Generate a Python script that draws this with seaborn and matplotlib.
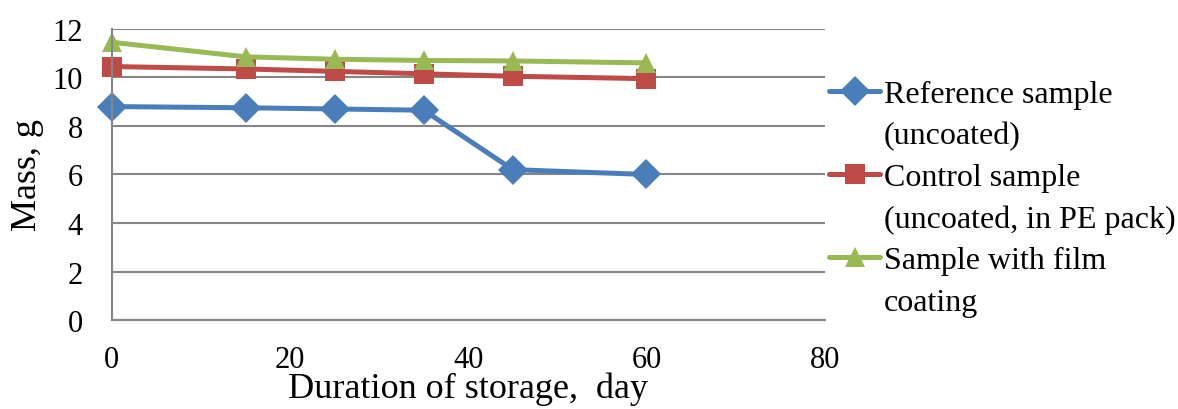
import matplotlib.pyplot as plt
from matplotlib.lines import Line2D
import seaborn as sns
import pandas as pd

# storage days and sample masses (g)
days = [0, 15, 25, 35, 45, 60]
reference = [8.8, 8.75, 8.7, 8.65, 6.2, 6.0]
control = [10.45, 10.35, 10.25, 10.15, 10.05, 9.95]
film = [11.45, 10.85, 10.75, 10.7, 10.68, 10.6]

labels = ['Reference sample', 'Control sample', 'Sample with film']
second_lines = ['(uncoated)', '(uncoated, in PE pack)', 'coating']
colors = ['#4A7EBB', '#BE4B48', '#98B954']
markers = ['D', 's', '^']

df = pd.concat([
    pd.DataFrame({'day': days, 'mass': vals, 'sample': lab})
    for vals, lab in zip([reference, control, film], labels)
])

sns.set_style('white')
plt.rcParams['font.family'] = ['Liberation Serif', 'DejaVu Serif']
plt.rcParams['text.color'] = 'black'
plt.rcParams['xtick.color'] = 'black'
plt.rcParams['ytick.color'] = 'black'
plt.rcParams['axes.labelcolor'] = 'black'

fig = plt.figure(figsize=(11.78, 4.10), dpi=100)
ax = fig.add_axes([0.095, 0.217, 0.605, 0.71])

for lab, col, mk in zip(labels, colors, markers):
    sns.lineplot(data=df[df['sample'] == lab], x='day', y='mass', ax=ax,
                 color=col, marker=mk, markersize=15, markeredgewidth=0,
                 linewidth=3.6, label=lab, legend=False, clip_on=False)

ax.set_xlim(0, 80)
ax.set_ylim(0, 12)
ax.set_xticks([0, 20, 40, 60, 80])
ax.set_yticks(range(0, 13, 2))
ax.yaxis.grid(True, color='#868686', linewidth=1.5)
ax.set_axisbelow(True)
for s in ['top', 'right']:
    ax.spines[s].set_visible(False)
for s in ['left', 'bottom']:
    ax.spines[s].set_color('#868686')
    ax.spines[s].set_linewidth(1.5)
ax.tick_params(axis='both', labelsize=22, length=0)
ax.tick_params(axis='x', pad=18)
ax.tick_params(axis='y', pad=21)
ax.set_xlabel('Duration of storage,  day', fontsize=26, labelpad=-2)
ax.set_ylabel('Mass, g', fontsize=26, labelpad=6)

# legend: handle beside the first line of each label, like Excel
handles, labs = ax.get_legend_handles_labels()
blank = Line2D([], [], color='none')
leg_h, leg_l = [], []
for h, l, l2 in zip(handles, labs, second_lines):
    leg_h += [h, blank]
    leg_l += [l, l2]
fig.legend(leg_h, leg_l, loc='upper left', bbox_to_anchor=(0.704, 0.803),
           frameon=False, fontsize=23, handlelength=1.6, handletextpad=0.1,
           labelspacing=0.38, borderpad=0, borderaxespad=0)

fig.savefig('out.png', dpi=100)
